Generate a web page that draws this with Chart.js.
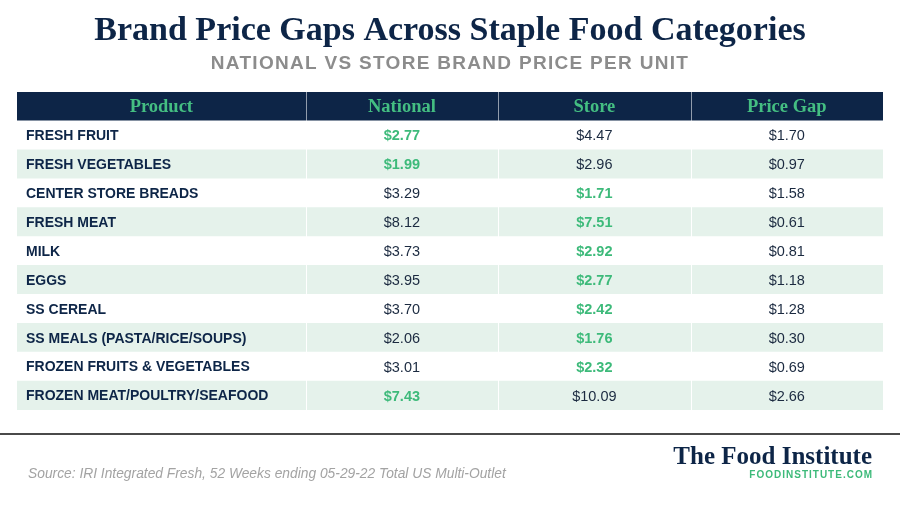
<!DOCTYPE html>
<html>
<head>
<meta charset="utf-8">
<script src="https://cdn.jsdelivr.net/npm/chart.js@4.4.1/dist/chart.umd.min.js"></script>
<style>
  html, body { margin: 0; padding: 0; background: #ffffff; }
  #wrap { width: 900px; height: 506px; position: relative; }
</style>
</head>
<body>
<div id="wrap"><canvas id="priceTable"></canvas></div>
<script>
// table data
const columnHeaders = ["Product", "National", "Store", "Price Gap"];
const products = [
    "FRESH FRUIT",
    "FRESH VEGETABLES",
    "CENTER STORE BREADS",
    "FRESH MEAT",
    "MILK",
    "EGGS",
    "SS CEREAL",
    "SS MEALS (PASTA/RICE/SOUPS)",
    "FROZEN FRUITS & VEGETABLES",
    "FROZEN MEAT/POULTRY/SEAFOOD"
];
const nationalPrices = [2.77, 1.99, 3.29, 8.12, 3.73, 3.95, 3.70, 2.06, 3.01, 7.43];
const storePrices = [4.47, 2.96, 1.71, 7.51, 2.92, 2.77, 2.42, 1.76, 2.32, 10.09];
const priceGaps = [1.70, 0.97, 1.58, 0.61, 0.81, 1.18, 1.28, 0.30, 0.69, 2.66];

const titleText = "Brand Price Gaps Across Staple Food Categories";
const subtitleText = "NATIONAL VS STORE BRAND PRICE PER UNIT";
const sourceText = "Source: IRI Integrated Fresh, 52 Weeks ending 05-29-22 Total US Multi-Outlet";

// column edges on the x scale (product column is wider)
const colEdges = [0, 1.5, 2.5, 3.5, 4.5];

const NAVY = "#0d2547";
const GREEN = "#3dba7a";
const STRIPE = "#e5f2eb";

const rowLabels = ["header"].concat(products);

function money(v) {
    return "$" + v.toFixed(2);
}

const tablePlugin = {
    id: "tableText",
    afterDatasetsDraw(chart) {
        const ctx = chart.ctx;
        const xs = chart.scales.x;
        const ys = chart.scales.y;
        const top = ys.getPixelForValue(0) - (ys.getPixelForValue(1) - ys.getPixelForValue(0)) / 2;
        const bottom = chart.chartArea.bottom;
        const headBottom = (ys.getPixelForValue(0) + ys.getPixelForValue(1)) / 2;

        ctx.save();
        // column dividers
        for (let c = 1; c < colEdges.length - 1; c++) {
            const x = Math.round(xs.getPixelForValue(colEdges[c])) + 0.5;
            ctx.strokeStyle = "rgba(255,255,255,0.55)";
            ctx.lineWidth = 1;
            ctx.beginPath();
            ctx.moveTo(x, top);
            ctx.lineTo(x, headBottom);
            ctx.stroke();
            ctx.strokeStyle = "#ffffff";
            ctx.beginPath();
            ctx.moveTo(x, headBottom);
            ctx.lineTo(x, bottom);
            ctx.stroke();
        }

        // header row
        ctx.textBaseline = "middle";
        ctx.textAlign = "center";
        ctx.fillStyle = "#44be82";
        ctx.font = "bold 18.5px 'Liberation Serif', serif";
        const hy = ys.getPixelForValue(0) + 1;
        columnHeaders.forEach((h, c) => {
            const cx = xs.getPixelForValue((colEdges[c] + colEdges[c + 1]) / 2);
            ctx.fillText(h, cx, hy);
        });

        // body rows
        products.forEach((p, i) => {
            const y = ys.getPixelForValue(i + 1) + 1;
            ctx.textAlign = "left";
            ctx.fillStyle = NAVY;
            ctx.font = "bold 14px 'Liberation Sans', Arial, sans-serif";
            ctx.fillText(p, xs.getPixelForValue(colEdges[0]) + 9, y);

            const lowNational = nationalPrices[i] < storePrices[i];
            const cells = [nationalPrices[i], storePrices[i], priceGaps[i]];
            cells.forEach((v, k) => {
                const c = k + 1;
                const cx = xs.getPixelForValue((colEdges[c] + colEdges[c + 1]) / 2);
                const highlight = (k === 0 && lowNational) || (k === 1 && !lowNational);
                ctx.textAlign = "center";
                ctx.fillStyle = highlight ? GREEN : "#1b2a40";
                ctx.font = (highlight ? "bold " : "") + "14.5px 'Liberation Sans', Arial, sans-serif";
                ctx.fillText(money(v), cx, y);
            });
        });
        ctx.restore();
    },
    afterDraw(chart) {
        const ctx = chart.ctx;
        ctx.save();
        ctx.textBaseline = "alphabetic";

        // title
        ctx.textAlign = "center";
        ctx.fillStyle = NAVY;
        ctx.font = "bold 34px 'Liberation Serif', serif";
        ctx.fillText(titleText, 450, 40);

        // subtitle
        ctx.fillStyle = "#8c8c8c";
        ctx.font = "bold 19px 'Liberation Sans', Arial, sans-serif";
        ctx.letterSpacing = "1.3px";
        ctx.fillText(subtitleText, 450, 69);
        ctx.letterSpacing = "0px";

        // footer rule
        ctx.fillStyle = "#4a4a4a";
        ctx.fillRect(0, 433, 900, 2);

        // source
        ctx.textAlign = "left";
        ctx.fillStyle = "#a3a3a3";
        ctx.font = "italic 13.8px 'Liberation Sans', Arial, sans-serif";
        ctx.fillText(sourceText, 28, 478);

        // logo
        ctx.textAlign = "right";
        ctx.fillStyle = NAVY;
        ctx.font = "bold 25px 'Liberation Serif', serif";
        ctx.fillText("The Food Institute", 872, 464);
        ctx.fillStyle = GREEN;
        ctx.font = "bold 10px 'Liberation Sans', Arial, sans-serif";
        ctx.letterSpacing = "1px";
        ctx.fillText("FOODINSTITUTE.COM", 873, 478);
        ctx.letterSpacing = "0px";
        ctx.restore();
    }
};

const ctx = document.getElementById("priceTable").getContext("2d");
window.priceTableChart = new Chart(ctx, {
    type: "bar",
    data: {
        labels: rowLabels,
        datasets: [{
            label: "rows",
            data: rowLabels.map(() => [colEdges[0], colEdges[colEdges.length - 1]]),
            backgroundColor: rowLabels.map((r, i) => i === 0 ? NAVY : (i % 2 === 0 ? STRIPE : "#ffffff")),
            borderWidth: 0,
            barPercentage: 1,
            categoryPercentage: 1
        }]
    },
    options: {
        indexAxis: "y",
        responsive: true,
        maintainAspectRatio: false,
        animation: false,
        layout: {
            padding: { top: 92, bottom: 96, left: 17, right: 17 }
        },
        scales: {
            x: { type: "linear", min: 0, max: 4.5, display: false },
            y: { type: "category", display: false }
        },
        plugins: {
            legend: { display: false },
            tooltip: { enabled: false }
        }
    },
    plugins: [tablePlugin]
});
</script>
</body>
</html>
